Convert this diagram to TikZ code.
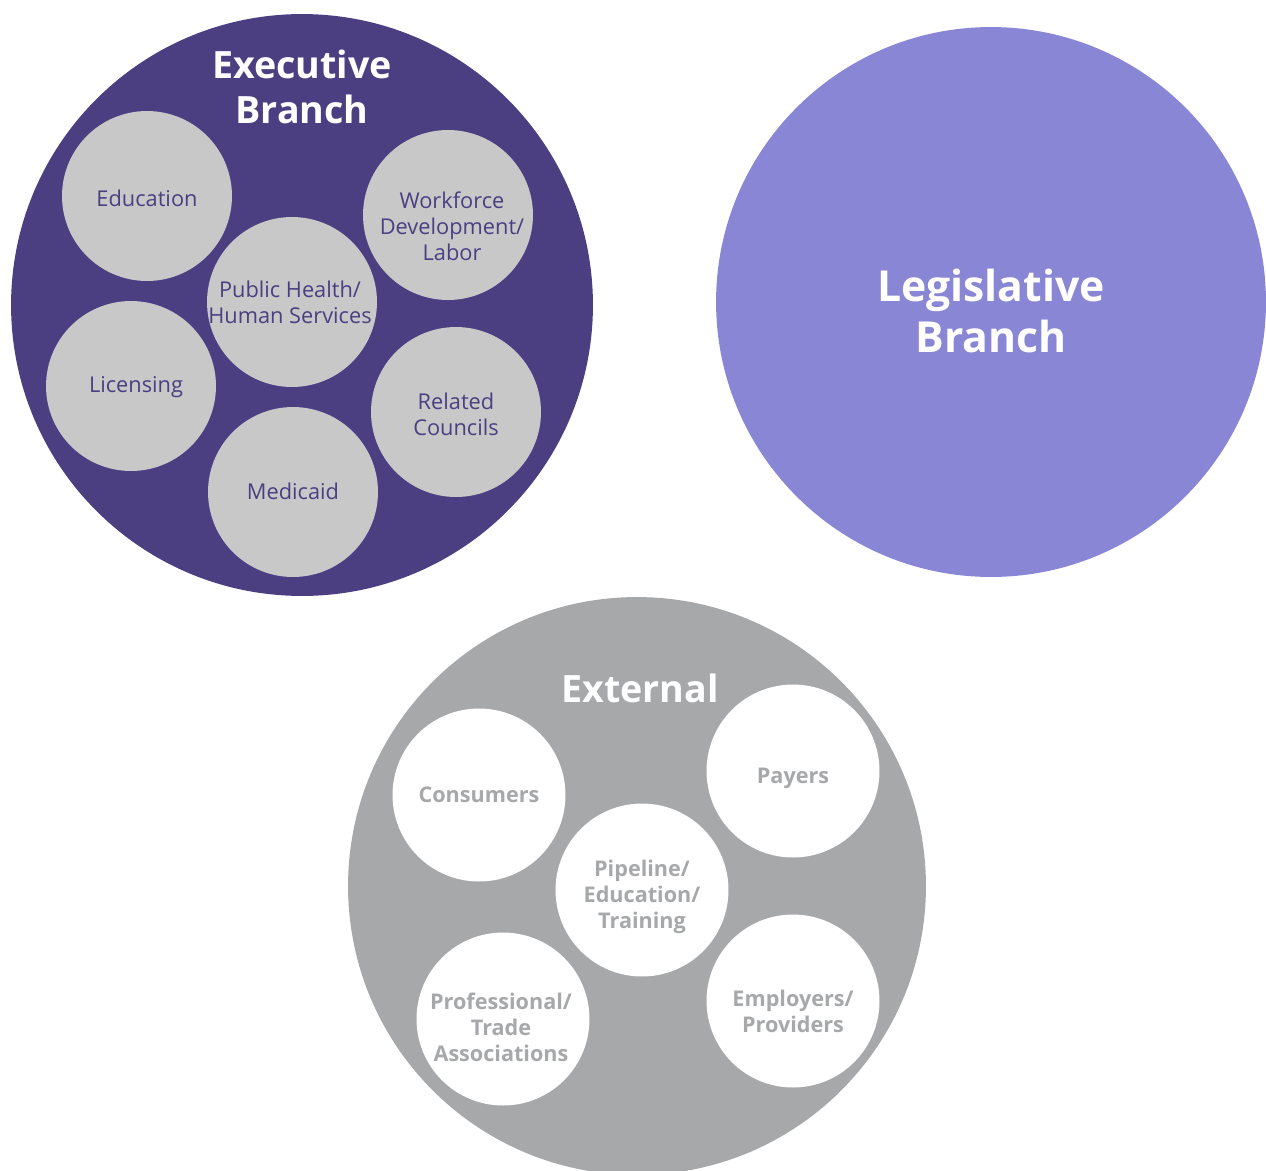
\documentclass[tikz,border=0pt]{standalone}
\usepackage{fontspec}
\setmainfont{Open Sans}
\usetikzlibrary{positioning}

\definecolor{execpurple}{HTML}{4B3F82}
\definecolor{legpurple}{HTML}{8A86D6}
\definecolor{extgray}{HTML}{A7A8AA}
\definecolor{unitgray}{HTML}{C8C8C8}

\tikzset{
  branch/.style={circle, fill, inner sep=0pt},
  title/.style={align=center, text=white, font=\bfseries\fontsize{21.4}{25.5}\selectfont},
  unit/.style={circle, fill=unitgray, inner sep=0pt, minimum size=3.4cm},
  unittext/.style={align=center, text=execpurple, font=\fontsize{12.4}{14.7}\selectfont},
  extunit/.style={circle, fill=white, inner sep=0pt, minimum size=3.46cm},
  extunittext/.style={align=center, text=extgray, font=\bfseries\fontsize{12.3}{14.7}\selectfont}
}

\begin{document}
\begin{tikzpicture}[x=0.02cm, y=-0.02cm]
      \useasboundingbox (0,0) rectangle (1266,1170);

      % executive branch
      \node[branch, fill=execpurple, minimum size=11.64cm] (exec) at (302, 305) {};
      \node[title] (exec-t) at (302, 87) {Executive\\Branch};

      \node[unit] (edu) at (147, 196) {};
      \node[unit] (work) at (448, 215) {};
      \node[unit] (health) at (292, 302) {};
      \node[unit] (lic) at (131, 386) {};
      \node[unit] (coun) at (456, 412) {};
      \node[unit] (med) at (293, 492) {};

      \node[unittext] (edu-t) at (147, 198) {Education};
      \node[unittext] (work-t) at (452, 226) {Workforce\\Development/\\Labor};
      \node[unittext] (health-t) at (290, 302) {Public Health/\\Human Services};
      \node[unittext] (lic-t) at (136, 387) {Licensing};
      \node[unittext] (coun-t) at (456, 414) {Related\\Councils};
      \node[unittext] (med-t) at (293, 491) {Medicaid};

      % legislative branch
      \node[branch, fill=legpurple, minimum size=11cm] (leg) at (991, 302) {};
      \node[title, font=\bfseries\fontsize{24.3}{29.5}\selectfont] (leg-t) at (991, 311) {Legislative\\Branch};

      % external
      \node[branch, fill=extgray, minimum size=11.56cm] (ext) at (637, 886) {};
      \node[title] (ext-t) at (640, 688) {External};

      \node[extunit] (cons) at (479, 795) {};
      \node[extunit] (pay) at (793, 771) {};
      \node[extunit] (pipe) at (642, 890) {};
      \node[extunit] (prof) at (503, 1019) {};
      \node[extunit] (empl) at (793, 1001) {};

      \node[extunittext] (cons-t) at (479, 795) {Consumers};
      \node[extunittext] (pay-t) at (793, 778) {Payers};
      \node[extunittext] (pipe-t) at (642, 897) {Pipeline/\\Education/\\Training};
      \node[extunittext] (prof-t) at (501, 1027) {Professional/\\Trade\\Associations};
      \node[extunittext] (empl-t) at (793, 1011) {Employers/\\Providers};
\end{tikzpicture}
\end{document}
